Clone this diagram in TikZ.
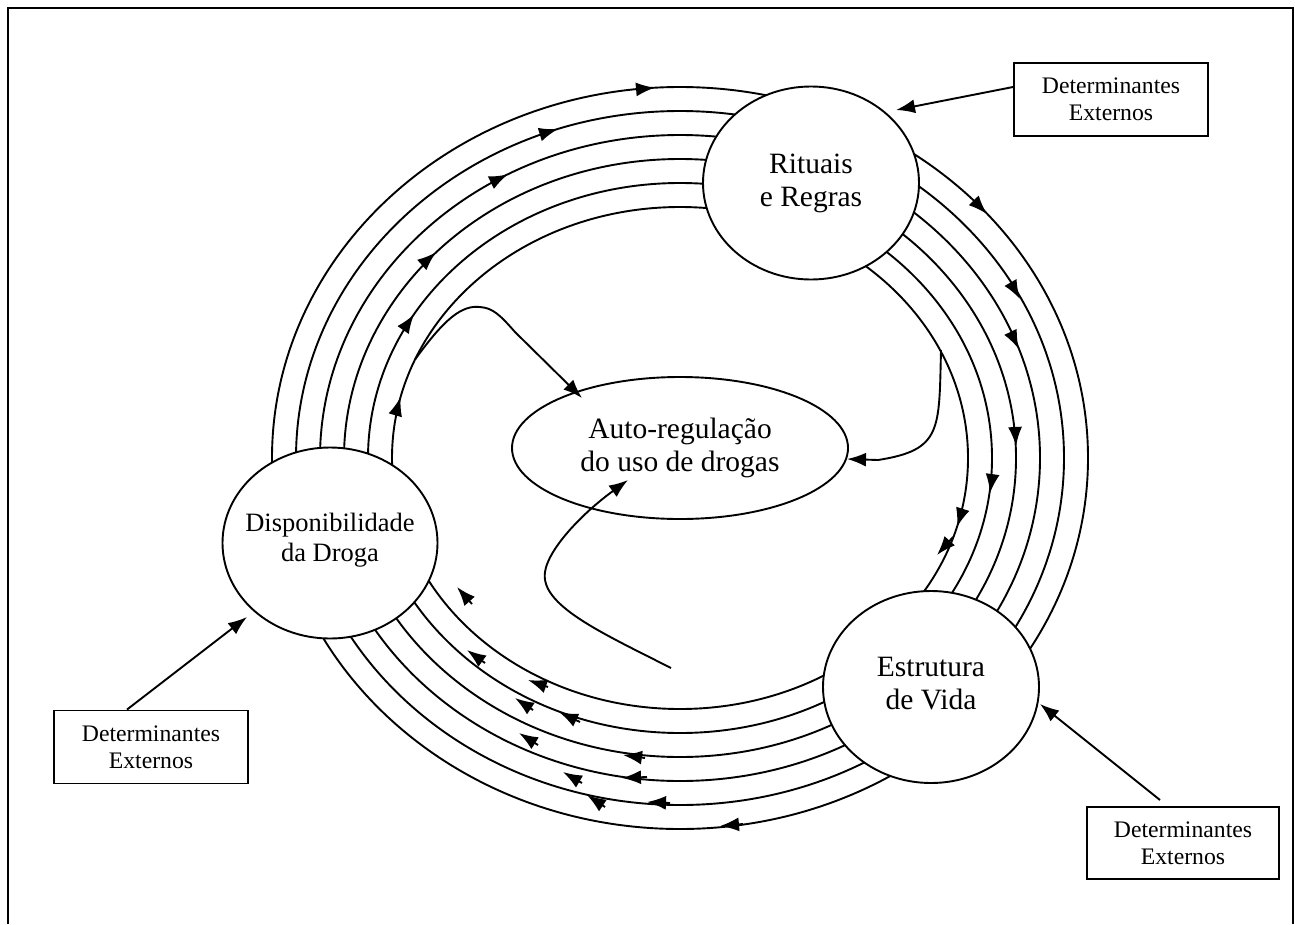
\documentclass[tikz,border=0pt]{standalone}
\usepackage{fontspec}
\setmainfont{Liberation Serif}
\usetikzlibrary{arrows.meta,shapes.geometric}
\begin{document}
\begin{tikzpicture}[x=1pt,y=-1pt,
  ln/.style={line width=1.9pt},
  tip/.style={-{Latex[length=19pt,width=14pt]}},
  ell/.style={ellipse,draw,line width=1.9pt,fill=white,inner sep=0pt},
  lbl/.style={align=center,font=\fontsize{29.5}{33}\selectfont,inner sep=0pt},
  detbox/.style={rectangle,draw,line width=1.9pt,fill=white,minimum width=194pt,minimum height=73pt,align=center,font=\fontsize{23.7}{27}\selectfont,inner sep=0pt}]

\useasboundingbox (0,0) rectangle (1295,924);
\draw[line width=2pt] (8,924) -- (8,8) -- (1293,8) -- (1293,924);

% concentric rings
\foreach \k in {0,...,5}
  \draw[ln] (680,458) ellipse [x radius={408-24*\k}, y radius={371-24*\k}];

% main nodes
\node[ell,minimum width=216pt,minimum height=193pt] (rit) at (811,183) {};
\node[ell,minimum width=215pt,minimum height=191pt] (disp) at (330,543) {};
\node[ell,minimum width=216pt,minimum height=192pt] (est) at (931,687) {};
\node[ell,minimum width=336pt,minimum height=142pt] (auto) at (680,448) {};

\node[lbl] (ritl) at (rit) {Rituais\\e Regras};
\node[lbl,font=\fontsize{26.5}{30}\selectfont] (displ) at ([yshift=3pt]disp) {Disponibilidade\\da Droga};
\node[lbl] (estl) at ([yshift=3pt]est) {Estrutura\\de Vida};
\node[lbl] (autol) at (auto) {Auto-regulação\\do uso de drogas};

% boxes
\node[detbox] (b1) at (1111,99.5) {Determinantes\\Externos};
\node[detbox] (b2) at (151,747) {Determinantes\\Externos};
\node[detbox,minimum width=192pt,minimum height=72pt] (b3) at (1183,843) {Determinantes\\Externos};

% arrowheads on rings: top-left group
\draw[ln,tip] (645,88.6) -- (655,87.7);
\draw[ln,tip] (548.4,131.9) -- (558,129);
\draw[ln,tip] (499,178.7) -- (508,174.3);
\draw[ln,tip] (428.7,258.8) -- (436,252.3);
\draw[ln,tip] (408.3,322.6) -- (414,314.4);
\draw[ln,tip] (397.8,406.6) -- (400.6,397);

% right group
\draw[ln,tip] (980,206.8) -- (987,214);
\draw[ln,tip] (1015,290.3) -- (1020,299);
\draw[ln,tip] (1014.3,339.7) -- (1018.8,349);
\draw[ln,tip] (1015.5,436) -- (1016,446);
\draw[ln,tip] (991.4,483) -- (990,493);
\draw[ln,tip] (960,517.5) -- (957,527);
\draw[ln,tip] (953,537) -- (937,555);

% bottom group
\draw[ln,tip] (472,604) -- (457,587);
\draw[ln,tip] (485,663) -- (467,650);
\draw[ln,tip] (548,687) -- (528,680);
\draw[ln,tip] (533,710) -- (515,698);
\draw[ln,tip] (580,722) -- (559,712);
\draw[ln,tip] (538,745) -- (519,733);
\draw[ln,tip] (645,758) -- (623,755);
\draw[ln,tip] (647,777) -- (622,778);
\draw[ln,tip] (582,783) -- (563,772);
\draw[ln,tip] (605,807) -- (587,795);
\draw[ln,tip] (670,803) -- (647,802);
\draw[ln,tip] (743,824) -- (720,826);

% connectors into auto-regulation
\coordinate (c1s) at (415,359.6);
\coordinate (c1t) at (582,398);
\coordinate (c2s) at (941,350);
\coordinate (c2t) at (847,459);
\coordinate (c3s) at (671,668);
\coordinate (c3t) at (628,480);
\draw[ln,tip] (c1s) .. controls (445,318) and (462,305) .. (480,307) .. controls (493,308) and (500,315) .. (515,332) -- (c1t);
\draw[ln,tip] (c2s) .. controls (939,430) and (942,450) .. (878,460) -- (c2t);
\draw[ln,tip] (c3s) .. controls (600,632) and (540,605) .. (545,572) .. controls (548,550) and (580,515) .. (c3t);

% external determinants arrows
\coordinate (t1) at (896,110);
\coordinate (t2) at (247,617);
\coordinate (s3) at (1160,800);
\coordinate (t3) at (1040,704);
\draw[ln,tip] ([yshift=12.5pt]b1.west) -- (t1);
\draw[ln,tip] ([xshift=-24pt]b2.north) -- (t2);
\draw[ln,tip] (s3) -- (t3);
\end{tikzpicture}
\end{document}
